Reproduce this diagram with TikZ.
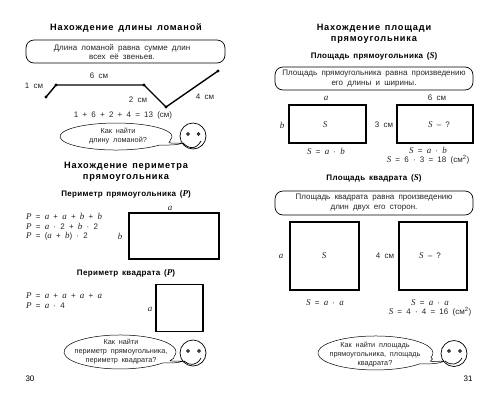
\documentclass[tikz,border=0pt]{standalone}
\usepackage{fontspec}
\setmainfont{Liberation Sans}[WordSpace=1.9]
\newfontfamily\ttlf{Liberation Sans}[LetterSpace=9,WordSpace=1.4]
\newfontfamily\subf{Liberation Sans}[LetterSpace=4,WordSpace=1.5]
\newfontfamily\mvf{Liberation Serif}[Scale=1.12]
\newcommand\mv[1]{{\mvf\itshape #1}}
\usetikzlibrary{calc}
\tikzset{
  body/.style={inner sep=0pt,align=center,text=black!85,font=\fontsize{8}{9.3}\selectfont},
  bubtext/.style={body,font=\fontsize{7.3}{8.8}\selectfont},
  ttl/.style={inner sep=0pt,align=center,font=\ttlf\bfseries\fontsize{9.2}{11}\selectfont},
  subttl/.style={inner sep=0pt,align=center,font=\subf\bfseries\fontsize{8}{9}\selectfont},
  rulebox/.style={draw,line width=0.7pt,rounded corners=8pt,fill=white},
  figbox/.style={draw,line width=1.3pt,fill=white},
  bub/.style={draw,line width=0.5pt,fill=white},
  brk/.style={line width=1.4pt,line join=round},
  dot/.style={circle,fill=black,inner sep=0pt,minimum size=3.2pt},
  face/.style={draw,line width=0.7pt,fill=white,circle,inner sep=0pt,minimum size=26pt},
  eye/.style={circle,draw,line width=0.4pt,fill=black!70,inner sep=0pt,minimum size=3.2pt},
  smile/.style={line width=0.7pt},
  fm/.style={body,anchor=base west},
  eqn/.style={body,anchor=base}
}
\begin{document}
\begin{tikzpicture}[x=1pt,y=-1pt]
\useasboundingbox (0,0) rectangle (500,400);
\fill[white] (0,0) rectangle (500,400);
% ---- page 30
\node[ttl] (t1) at (126,28) {Нахождение длины ломаной};
\draw[rulebox] (26,40) rectangle (225,63);
\node[body] (r1) at (122,52) {Длина ломаной равна сумме длин\\всех её звеньев.};
\node[dot] (p1) at (46,97) {};
\node[dot] (p2) at (56,85) {};
\node[dot] (p3) at (144,85) {};
\node[dot] (p4) at (166,107) {};
\node[dot] (p5) at (218,71) {};
\draw[brk] (p1.center) -- (p2.center) -- (p3.center) -- (p4.center) -- (p5.center);
\node[body] (l1) at (34,86) {1 см};
\node[body] (l2) at (99,76) {6 см};
\node[body] (l3) at (138,100) {2 см};
\node[body] (l4) at (205,97) {4 см};
\node[body] (eq1) at (123,115) {1 + 6 + 2 + 4 = 13 (см)};
% bubble 1
\coordinate (b1tip) at (183,143);
\draw[bub] (158.9,145.2) arc[start angle=40,end angle=375,x radius=56,y radius=13.5] .. controls (172,141) and (166,143) .. (171,143) -- (b1tip) .. controls (178,145) and (172,145) .. (158.9,145.2) -- cycle;
\node[bubtext] (bt1) at (118,136) {Как найти\\длину ломаной?};
\node[face] (f1) at (193,136) {};
\node[eye] (f1a) at (188,134) {};
\node[eye] (f1b) at (198.5,134) {};
\draw[smile] (b1tip) .. controls (189,149) and (196,150) .. (201,141);
\node[ttl] (t2) at (126,172) {Нахождение периметра\\прямоугольника};
\node[subttl] (s1) at (126,194) {Периметр прямоугольника (\mv{P})};
\node[fm] (f11) at (26,219.5) {\mv{P} = \mv{a} + \mv{a} + \mv{b} + \mv{b}};
\node[fm] (f12) at (26,229) {\mv{P} = \mv{a} · 2 + \mv{b} · 2};
\node[fm] (f13) at (26,238.5) {\mv{P} = (\mv{a} + \mv{b}) · 2};
\draw[figbox] (129,213) rectangle (219,259);
\node[body] (ra) at (170,208) {\mv{a}};
\node[body] (rb) at (120,236) {\mv{b}};
\node[subttl] (s2) at (126,273) {Периметр квадрата (\mv{P})};
\node[fm] (f21) at (26,298.5) {\mv{P} = \mv{a} + \mv{a} + \mv{a} + \mv{a}};
\node[fm] (f22) at (26,308) {\mv{P} = \mv{a} · 4};
\draw[figbox] (156,284.5) rectangle (203,331.5);
\node[body] (qa) at (150,309) {\mv{a}};
% bubble 2
\coordinate (b2tip) at (184,361);
\draw[bub] (162.9,362.9) arc[start angle=40,end angle=375,x radius=56,y radius=17] .. controls (176,359) and (166,361) .. (172,361) -- (b2tip) .. controls (178,363) and (172,363) .. (162.9,362.9) -- cycle;
\node[bubtext] (bt2) at (121,351.5) {Как найти\\периметр прямоугольника,\\периметр квадрата?};
\node[face] (f2) at (193,353) {};
\node[eye] (f2a) at (188,351) {};
\node[eye] (f2b) at (199,351) {};
\draw[smile] (b2tip) .. controls (189,366) and (197,366) .. (201,358);
\node[body,text=black] (n30) at (30,379) {30};
% ---- page 31
\node[ttl] (t3) at (374,33.5) {Нахождение площади\\прямоугольника};
\node[subttl] (s3) at (374,56) {Площадь прямоугольника (\mv{S})};
\draw[rulebox] (275,67) rectangle (473,90);
\node[body] (r3) at (374,78.5) {Площадь прямоугольника равна произведению\\его длины и ширины.};
\draw[figbox] (289,105) rectangle (366,143);
\draw[figbox] (397,105) rectangle (473,143);
\node[body] (ar) at (326,98) {\mv{a}};
\node[body] (br) at (282,125) {\mv{b}};
\node[body] (sr) at (325,125) {\mv{S}};
\node[eqn] (e3) at (326,154) {\mv{S} = \mv{a} · \mv{b}};
\node[body] (w6) at (437,98) {6 см};
\node[body] (h3) at (384,125) {3 см};
\node[body] (sq) at (439,125) {\mv{S} – ?};
\node[eqn] (e4) at (428,153) {\mv{S} = \mv{a} · \mv{b}};
\node[eqn] (e5) at (428,162) {\mv{S} = 6 · 3 = 18 (см\textsuperscript{2})};
\node[subttl] (s4) at (374,178) {Площадь квадрата (\mv{S})};
\draw[rulebox] (275,191) rectangle (473,215);
\node[body] (r4) at (374,202.5) {Площадь квадрата равна произведению\\длин двух его сторон.};
\draw[figbox] (290,222) rectangle (359,290);
\draw[figbox] (399,222) rectangle (467,290);
\node[body] (qa2) at (281,256) {\mv{a}};
\node[body] (qs2) at (324,256) {\mv{S}};
\node[body] (q4) at (385,256) {4 см};
\node[body] (qs3) at (430,256) {\mv{S} – ?};
\node[eqn] (e6) at (325,305) {\mv{S} = \mv{a} · \mv{a}};
\node[eqn] (e7) at (430,305) {\mv{S} = \mv{a} · \mv{a}};
\node[eqn] (e8) at (430,314) {\mv{S} = 4 · 4 = 16 (см\textsuperscript{2})};
% bubble 3
\coordinate (b3tip) at (445,361);
\draw[bub] (419.5,363.9) arc[start angle=40,end angle=375,x radius=57.5,y radius=17] .. controls (436,360) and (426,361) .. (433,361.5) -- (b3tip) .. controls (438,364) and (430,364) .. (419.5,363.9) -- cycle;
\node[bubtext] (bt3) at (375,354.5) {Как найти площадь\\прямоугольника, площадь\\квадрата?};
\node[face] (f3) at (454,353.5) {};
\node[eye] (f3a) at (449,351) {};
\node[eye] (f3b) at (460,351) {};
\draw[smile] (b3tip) .. controls (451,366) and (458,365) .. (462,358);
\node[body,text=black] (n31) at (468,379) {31};
\end{tikzpicture}
\end{document}
